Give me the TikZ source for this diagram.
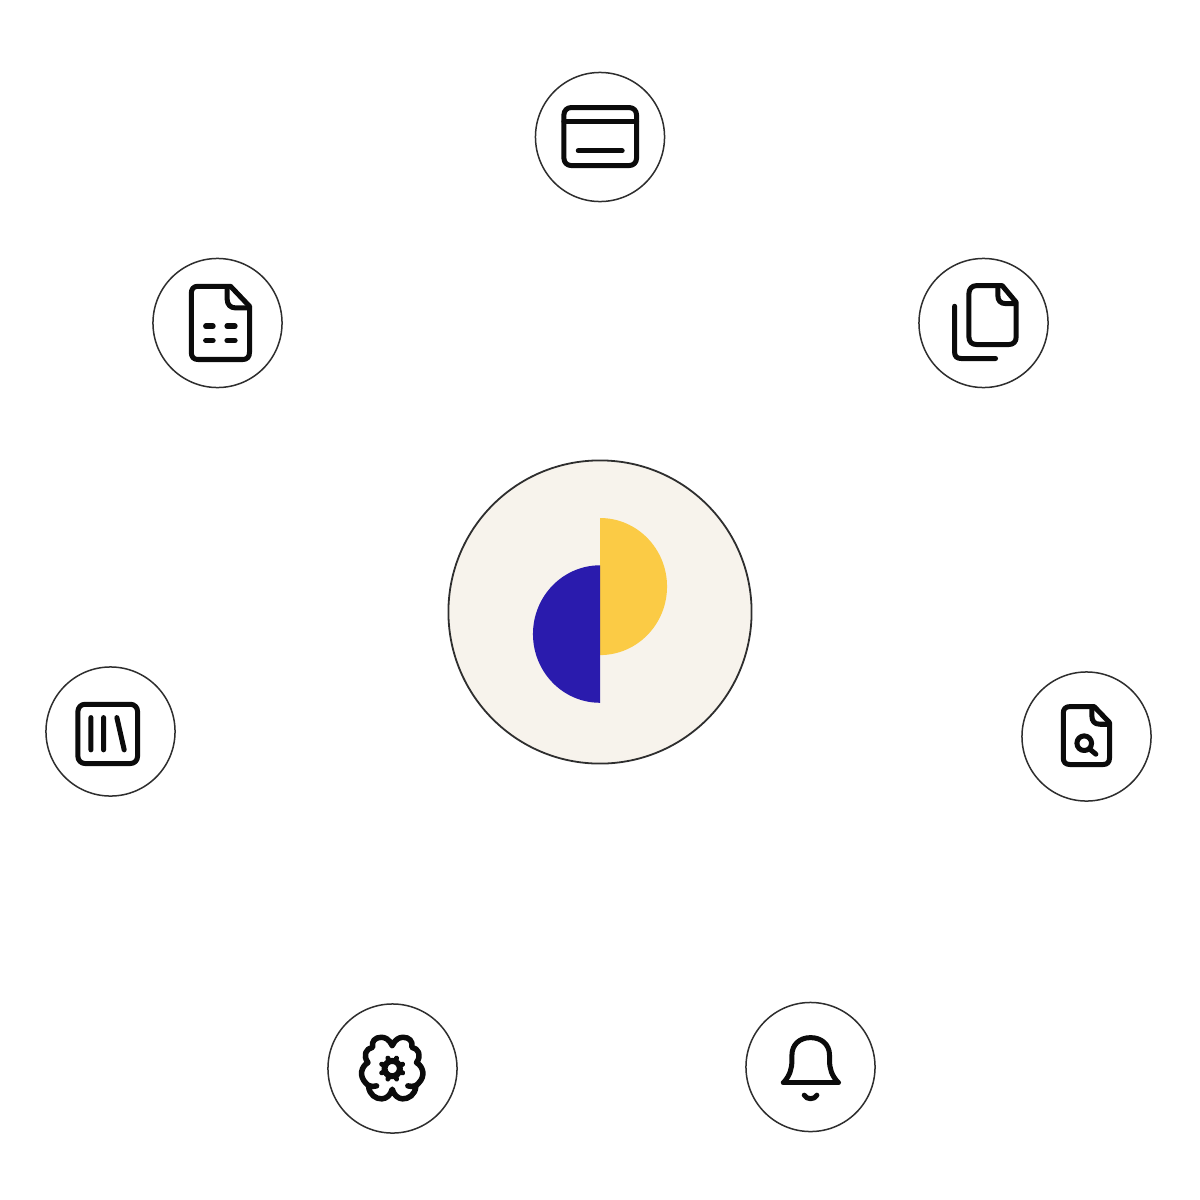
\documentclass[tikz,border=0pt]{standalone}
\definecolor{cream}{HTML}{F7F3EC}
\definecolor{sunny}{HTML}{FBCB45}
\definecolor{indigo}{HTML}{2A1BAD}
\definecolor{ringline}{HTML}{2E2E2E}
\definecolor{iconline}{HTML}{0B0B0B}
\tikzset{
  ring/.style={circle,draw=ringline,line width=.015cm,minimum size=1.29cm,inner sep=0pt,fill=white},
  hubring/.style={circle,draw=ringline,line width=.018cm,minimum size=3.03cm,inner sep=0pt,fill=cream},
  ico/.style={draw=iconline,line width=.05cm,line cap=round,line join=round},
  zoomgrid/.style={x=.0033333cm,y=-.0033333cm},
  rc/.style={rounded corners=.07cm}
}
\begin{document}
\begin{tikzpicture}[x=.01cm,y=-.01cm]
\useasboundingbox[fill=white] (0,0) rectangle (1200,1200);
% hub
\node[hubring] (hub) at (600,612) {};
\fill[sunny] (600,518) arc[start angle=90,end angle=-90,x radius=.67cm,y radius=.685cm] -- cycle;
\fill[indigo] (600,565.3) arc[start angle=90,end angle=270,x radius=.67cm,y radius=.687cm] -- cycle;
% rings
\node[ring] (card) at (600,137) {};
\node[ring] (doc) at (217.5,323) {};
\node[ring] (copy) at (983.5,323) {};
\node[ring] (lib) at (110.5,731.5) {};
\node[ring] (search) at (1086.5,736.5) {};
\node[ring] (brain) at (392.5,1068.5) {};
\node[ring] (bell) at (810.5,1067) {};
% card icon
\begin{scope}[shift={(530,65)},zoomgrid]
\draw[ico,rc] (102,128) rectangle (320,302);
\draw[ico] (102,170) -- (320,170);
\draw[ico] (145,258) -- (277,258);
\end{scope}
% document icon
\begin{scope}[shift={(148,253)},zoomgrid]
\draw[ico] (150,100) -- (248,100) -- (305,160) -- (305,298) .. controls (305,312) and (298,320) .. (285,320) -- (150,320) .. controls (137,320) and (130,312) .. (130,298) -- (130,122) .. controls (130,108) and (137,100) .. (150,100) -- cycle;
\draw[ico] (238,103) -- (238,140) .. controls (238,155) and (248,165) .. (263,165) -- (303,165);
\draw[ico,line width=.056cm] (174,220) -- (195,220) (238,220) -- (261,220) (174,263) -- (195,263) (238,263) -- (261,263);
\end{scope}
% copy icon
\begin{scope}[shift={(914,253)},zoomgrid]
\draw[ico] (188,98) -- (265,98) -- (307,148) -- (307,252) .. controls (307,267) and (298,275) .. (285,275) -- (188,275) .. controls (174,275) and (165,267) .. (165,252) -- (165,122) .. controls (165,108) and (174,98) .. (188,98) -- cycle;
\draw[ico] (252,102) -- (252,128) .. controls (252,143) and (260,152) .. (275,152) -- (305,152);
\draw[ico] (122,160) -- (122,298) .. controls (122,311) and (129,317) .. (142,317) -- (245,317);
\end{scope}
% library icon
\begin{scope}[shift={(41,661)},zoomgrid]
\draw[ico,rc] (111,130) rectangle (290,308);
\draw[ico] (150,170) -- (150,267) (188,170) -- (188,267) (228,170) -- (250,267);
\end{scope}
% search document icon
\begin{scope}[shift={(1016,666)},zoomgrid]
\draw[ico] (162,122) -- (235,122) -- (281,170) -- (281,276) .. controls (281,289) and (274,296) .. (262,296) -- (162,296) .. controls (149,296) and (142,289) .. (142,276) -- (142,142) .. controls (142,129) and (149,122) .. (162,122) -- cycle;
\draw[ico] (228,125) -- (228,150) .. controls (228,166) and (236,175) .. (252,175) -- (279,175);
\draw[ico] (205,232) circle[radius=22];
\draw[ico] (222,250) -- (240,265);
\end{scope}
% brain icon
\begin{scope}[shift={(322,998)},zoomgrid]
\draw[ico,line width=.055cm] (211,143) .. controls (202,124) and (190,118) .. (178,118)
  .. controls (160,118) and (148,130) .. (152,148)
  .. controls (132,152) and (122,172) .. (138,194)
  .. controls (118,206) and (110,234) .. (132,256)
  .. controls (138,264) and (150,268) .. (164,264)
  (140,266) .. controls (142,290) and (162,304) .. (180,303)
  .. controls (194,302) and (206,292) .. (211,274)
  .. controls (216,292) and (228,302) .. (242,303)
  .. controls (260,304) and (280,290) .. (282,266)
  (258,264) .. controls (272,268) and (284,264) .. (290,256)
  .. controls (312,234) and (304,206) .. (284,194)
  .. controls (300,172) and (290,152) .. (270,148)
  .. controls (274,130) and (262,118) .. (244,118)
  .. controls (232,118) and (220,124) .. (211,143);
\draw[ico,line width=.06cm] (211,212) circle[radius=23];
\foreach \a in {0,45,...,315}
  \draw[ico,line width=.05cm] (211,212) ++(\a+22.5:31) -- ++(\a+22.5:3);
\end{scope}
% bell icon
\begin{scope}[shift={(740,997)},zoomgrid]
\draw[ico] (130,258) -- (296,258);
\draw[ico] (132,256) .. controls (150,235) and (156,215) .. (156,190) -- (156,175)
  .. controls (156,142) and (180,122) .. (212,122)
  .. controls (244,122) and (269,142) .. (269,175) -- (269,190)
  .. controls (269,215) and (275,235) .. (294,256);
\draw[ico] (193,295) .. controls (200,309) and (224,309) .. (231,295);
\end{scope}
\end{tikzpicture}
\end{document}
